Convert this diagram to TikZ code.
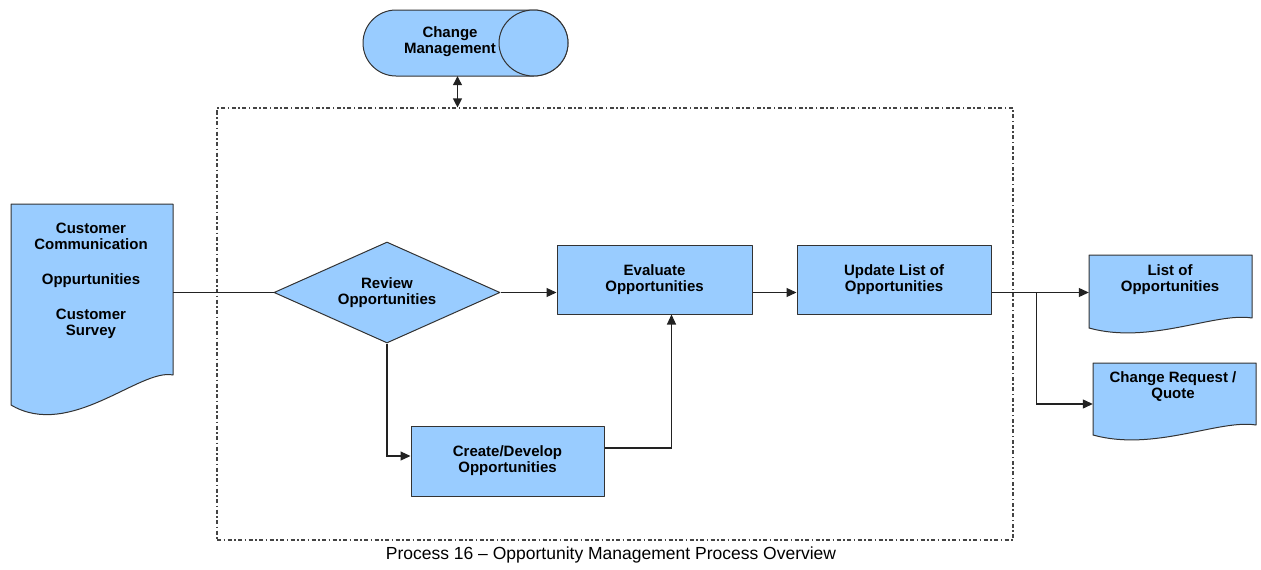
\documentclass[tikz,border=0pt]{standalone}
\usepackage{fontspec}
\setmainfont{Liberation Sans}
\usetikzlibrary{arrows.meta,shapes.geometric}
\definecolor{boxblue}{HTML}{99CCFF}
\definecolor{edgegray}{HTML}{333333}
\definecolor{linegray}{HTML}{222222}
\definecolor{framegray}{HTML}{444444}
\begin{document}
\begin{tikzpicture}[x=1pt,y=-1pt,
  lbl/.style={font=\bfseries\fontsize{15}{16}\selectfont, align=center, text=black, inner sep=0pt},
  shapeline/.style={draw=edgegray, fill=boxblue, line width=1pt, line join=round},
  procbox/.style={shapeline, rectangle, lbl},
  decbox/.style={shapeline, diamond, lbl, aspect=2.24},
  ghost/.style={rectangle, inner sep=0pt, draw=none},
  conn/.style={draw=linegray, line width=1.1pt},
  arr/.style={conn, -{Triangle[length=10pt,width=9pt]}},
  dblarr/.style={conn, {Triangle[length=9pt,width=9pt]}-{Triangle[length=9pt,width=9pt]}},
  framebox/.style={rectangle, draw=framegray, line width=1.1pt, dash pattern=on 4pt off 2.5pt on 1.5pt off 2.5pt, inner sep=0pt},
  captionstyle/.style={font=\fontsize{17.5}{20}\selectfont, inner sep=0pt, text=black}
]
\fill[white] (0,0) rectangle (1261,570);
\useasboundingbox (0,0) rectangle (1261,570);

% frame
\node[framebox, minimum width=796, minimum height=432] (frame) at (615,324) {};

% Change Management cylinder
\draw[shapeline] (396,10) -- (533.5,10) arc[start angle=-90, end angle=90, x radius=34.5, y radius=33]
  -- (396,76) arc[start angle=90, end angle=270, radius=33] -- cycle;
\draw[shapeline] (533.5,43) ellipse [x radius=34.5, y radius=33];
\node[ghost, minimum width=205, minimum height=66] (cm) at (465.5,43) {};
\node[lbl] (cmtxt) at (450,42) {Change\\Management};

% Customer document
\draw[shapeline] (11,204) -- (173,204) -- (173,375) .. controls (140,368) and (70,440) .. (11,405) -- cycle;
\node[ghost, minimum width=162, minimum height=171] (cust) at (92,289.5) {};
\node[lbl] (custtxt) at (91,281) {Customer\\Communication\\[19pt]Oppurtunities\\[19pt]Customer\\Survey};

% List of Opportunities document
\draw[shapeline] (1089,255) -- (1252,255) -- (1252,318) .. controls (1215,312) and (1150,345) .. (1089,328) -- cycle;
\node[ghost, minimum width=163, minimum height=63] (lst) at (1170.5,286.5) {};
\node[lbl] (lsttxt) at (1170,280) {List of\\Opportunities};

% Change Request document
\draw[shapeline] (1093,363) -- (1256,363) -- (1256,425) .. controls (1219,419) and (1154,452) .. (1093,435) -- cycle;
\node[ghost, minimum width=163, minimum height=62] (chg) at (1174.5,394) {};
\node[lbl] (chgtxt) at (1173,387) {Change Request /\\Quote};

% process nodes
\node[decbox, minimum width=226, minimum height=101] (rev) at (387,292.5) {Review\\Opportunities};
\node[procbox, minimum width=195, minimum height=69] (eval) at (654.5,279.5) {Evaluate\\Opportunities};
\node[procbox, minimum width=194, minimum height=69] (upd) at (894,279.5) {Update List of\\Opportunities};
\node[procbox, minimum width=193, minimum height=70] (create) at (507.5,461) {Create/Develop\\Opportunities};

% connectors
\coordinate (cmb) at ([xshift=-8pt]cm.south);
\draw[dblarr] (cmb) -- (cmb |- frame.north);
\draw[conn] (cust.east |- rev.west) -- (rev.west);
\draw[arr] (rev.east) -- (rev.east -| eval.west);
\draw[arr] (rev.east -| eval.east) -- (rev.east -| upd.west);
\draw[arr] (rev.east -| upd.east) -- (rev.east -| lst.west);
\coordinate (br) at ([xshift=45pt]rev.east -| upd.east);
\draw[arr] (br) |- ([yshift=-10pt]chg.west);
\draw[arr] (rev.south) |- ([yshift=5pt]create.west);
\draw[arr] ([yshift=13pt]create.east) -| ([xshift=17pt]eval.south);

% caption
\node[captionstyle] (cap) at (611,555) {Process 16 – Opportunity Management Process Overview};
\end{tikzpicture}
\end{document}
